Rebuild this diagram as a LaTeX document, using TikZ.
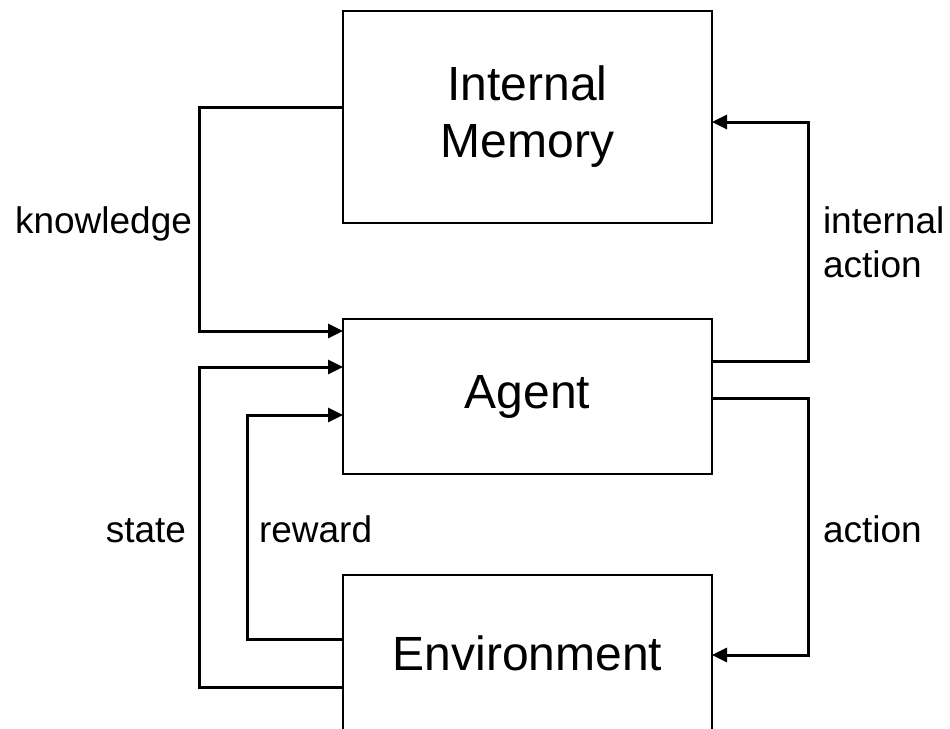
\documentclass[tikz,border=0pt]{standalone}
\usepackage{fontspec}
\setmainfont{Liberation Sans}
\usetikzlibrary{arrows.meta}

\begin{document}
\begin{tikzpicture}[x=1pt,y=-1pt,line width=2pt,>={Triangle[length=15pt,width=14pt]},
    box node/.style={rectangle,draw,outer sep=0pt,minimum width=369pt,align=center,font=\fontsize{48}{57}\selectfont},
    label node/.style={inner sep=0pt,align=left,font=\fontsize{37}{44}\selectfont},
    link/.style={->,line width=3pt,line join=miter}]
    \useasboundingbox (0,0) rectangle (950,728);
    \clip (0,0) rectangle (950,728);
    % boxes
    \node[box node,minimum height=212pt] (mem) at (527.5,117) {Internal\\Memory};
    \node[box node,minimum height=155pt] (agent) at (527.5,396.5) {Agent};
    \node[box node,minimum height=156pt] (env) at (527.5,653) {Environment};
    % labels
    \node[label node,anchor=base east] (lknow) at (193,233) {knowledge};
    \node[label node,anchor=north west] (linternal) at (822,206) {internal\\action};
    \node[label node,anchor=base east] (lstate) at (187,542) {state};
    \node[label node,anchor=base west] (lreward) at (258,542) {reward};
    \node[label node,anchor=base west] (laction) at (822,542) {action};
    % connectors
    \draw[link] ([yshift=10pt]mem.west) -- ++(-144,0) |- ([yshift=65.5pt]agent.west);
    \draw[link] ([yshift=-34pt]env.west) -- ++(-144,0) |- ([yshift=29.5pt]agent.west);
    \draw[link] ([yshift=14pt]env.west) -- ++(-96,0) |- ([yshift=-18.5pt]agent.west);
    \draw[link] ([yshift=35.5pt]agent.east) -- ++(96,0) |- ([yshift=-5pt]mem.east);
    \draw[link] ([yshift=-1.5pt]agent.east) -- ++(96,0) |- ([yshift=-2pt]env.east);
\end{tikzpicture}
\end{document}
